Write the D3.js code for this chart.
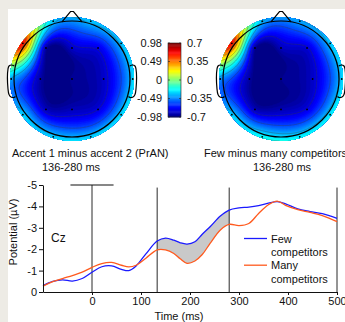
<!DOCTYPE html>
<html><head><meta charset="utf-8">
<script src="https://cdn.jsdelivr.net/npm/d3@7"></script>
<style>
html,body{margin:0;padding:0;background:#EDEBE5;}
svg{display:block;font-family:"Liberation Sans",Arial,sans-serif;}
</style></head><body>
<svg id="c" width="345" height="322"></svg>
<script>
// ---------------- data ----------------
const electrodeNames = ["Fp1","Fp2","F7","F3","Fz","F4","F8","T7","C3","Cz","C4","T8","P7","P3","Pz","P4","P8","O1","O2"];
const electrodeX = [-0.303,0.303,-0.793,-0.42,0,0.42,0.793,-0.98,-0.51,0,0.51,0.98,-0.793,-0.42,0,0.42,0.793,-0.303,0.303];
const electrodeY = [-0.932,-0.932,-0.576,-0.5,-0.5,-0.5,-0.576,0,0,0,0,0,0.576,0.49,0.49,0.49,0.576,0.932,0.932];
const accentValues =     [-0.35,-0.36,0.7,-0.9,-0.84,-0.78,-0.36,-0.42,-0.9,-0.94,-0.84,-0.33,-0.33,-0.86,-0.87,-0.8,-0.32,-0.34,-0.34];
const competitorValues = [-0.27,-0.3,0.5,-0.66,-0.62,-0.58,-0.25,-0.33,-0.65,-0.68,-0.6,-0.24,-0.24,-0.62,-0.63,-0.56,-0.2,-0.17,-0.19];
const accentTicks = [0.98,0.49,0,-0.49,-0.98];
const competitorTicks = [0.7,0.35,0,-0.35,-0.7];
const mapTitles = ["Accent 1 minus accent 2 (PrAN)","Few minus many competitors"];
const mapWindowLabel = "136-280 ms";

const times = [-100,-80,-60,-40,-20,0,20,40,60,75,90,110,133,150,167,180,194,210,225,241,262,280,300,320,340,360,378,395,420,445,470,500];
const fewValues =  [-0.30,-0.50,-0.57,-0.51,-0.63,-0.92,-1.18,-1.22,-1.06,-1.00,-1.22,-1.78,-2.38,-2.52,-2.42,-2.30,-2.24,-2.35,-2.70,-3.05,-3.55,-3.83,-3.93,-3.97,-4.04,-4.15,-4.22,-4.12,-3.88,-3.76,-3.66,-3.44];
const manyValues = [-0.27,-0.48,-0.63,-0.77,-0.93,-1.15,-1.33,-1.38,-1.25,-1.17,-1.25,-1.58,-1.97,-1.97,-1.80,-1.55,-1.34,-1.45,-1.75,-2.27,-2.90,-3.16,-3.10,-3.20,-3.67,-4.08,-4.25,-4.05,-3.85,-3.72,-3.57,-3.29];
const seriesNames = [["Few","competitors"],["Many","competitors"]];
const seriesColors = ["#1a1aff","#ff5a1e"];
const windowStart = 133, windowEnd = 280;
const timeMarkers = [0,133,280,500];
const xTicks = [0,100,200,300,400,500];
const yTicks = [0,-1,-2,-3,-4,-5];

// ---------------- helpers ----------------
const svg = d3.select("#c");
svg.append("rect").attr("x",8).attr("y",9).attr("width",345).attr("height",322).attr("fill","#fff");

function jet(f){
  const c = v => Math.max(0, Math.min(1, v));
  const r = c(1.5 - Math.abs(4*f - 3)), g = c(1.5 - Math.abs(4*f - 2)), b = c(1.5 - Math.abs(4*f - 1));
  return d3.rgb(r*255, g*255, b*255).toString();
}
function solveLinear(A, b){
  const n = b.length; const M = A.map((r,i)=>r.concat([b[i]]));
  for (let c=0;c<n;c++){
    let p=c; for (let r=c+1;r<n;r++) if (Math.abs(M[r][c])>Math.abs(M[p][c])) p=r;
    [M[c],M[p]]=[M[p],M[c]];
    for (let r=0;r<n;r++){ if(r===c) continue; const f=M[r][c]/M[c][c]; for(let k=c;k<=n;k++) M[r][k]-=f*M[c][k]; }
  }
  return M.map((r,i)=>r[n]/r[i]);
}
const green = r => r>0 ? r*r*(Math.log(r)-1) : 0;
function fitSpline(vals){
  const N = vals.length, A = [];
  for (let i=0;i<N;i++){ const row=[]; for (let j=0;j<N;j++) row.push(green(Math.hypot(electrodeX[i]-electrodeX[j], electrodeY[i]-electrodeY[j]))); A.push(row); }
  const w = solveLinear(A, vals.slice());
  return (x,y) => { let s=0; for (let j=0;j<N;j++) s += w[j]*green(Math.hypot(x-electrodeX[j], y-electrodeY[j])); return s; };
}

function drawTopo(cx, cy, vals, vmax, id){
  const R = 62, Rh = 58, n = 91;
  const f = fitSpline(vals);
  const grid = new Array(n*n);
  for (let j=0;j<n;j++) for (let i=0;i<n;i++){
    const x = -1 + 2*i/(n-1), y = -1 + 2*j/(n-1);
    grid[i + j*n] = Math.max(-vmax, Math.min(vmax, f(x,y)));
  }
  const s = 2*R/(n-1);
  const path = d3.geoPath(d3.geoIdentity().scale(s).translate([cx - R - 0.5*s, cy - R - 0.5*s]));
  svg.append("clipPath").attr("id",id).append("circle").attr("cx",cx).attr("cy",cy).attr("r",R);
  const g = svg.append("g").attr("clip-path",`url(#${id})`);
  const nLev = 64;
  const bandTh = d3.range(nLev).map(k => -vmax + k*2*vmax/nLev);
  bandTh[0] = -vmax - 1;
  const bands = d3.contours().size([n,n]).thresholds(bandTh)(grid);
  g.selectAll("path.band").data(bands).join("path").attr("class","band")
    .attr("d", path).attr("fill", (d,k) => jet((k+0.5)/nLev)).attr("stroke", (d,k)=>jet((k+0.5)/nLev)).attr("stroke-width",0.3);
  const lineTh = d3.range(-0.8, 0.81, 0.2).map(v => v*vmax/0.98);
  const lines = d3.contours().size([n,n]).thresholds(lineTh)(grid);
  g.selectAll("path.cl").data(lines).join("path").attr("class","cl")
    .attr("d", path).attr("fill","none").attr("stroke","#3a3a3a").attr("stroke-opacity",0.55).attr("stroke-width",0.6);
  // head
  const hg = svg.append("g").attr("fill","none").attr("stroke","#000").attr("stroke-width",1.2);
  hg.append("circle").attr("cx",cx).attr("cy",cy).attr("r",Rh);
  const nose = d3.line()([[cx-10, cy-Rh+0.8],[cx-1.5, cy-Rh-9.5],[cx+1.5, cy-Rh-9.5],[cx+10, cy-Rh+0.8]]);
  hg.append("path").attr("d", nose);
  const earPts = [[-0.3,-13],[2.5,-14],[5,-13],[6,-10],[6,10],[5,15.5],[3,18],[0,18.5],[-1.5,17.5]];
  const earLine = d3.line().curve(d3.curveCatmullRom);
  hg.append("path").attr("d", earLine(earPts.map(p=>[cx - Rh - p[0], cy + p[1]])));
  hg.append("path").attr("d", earLine(earPts.map(p=>[cx + Rh + p[0], cy + p[1]])));
  // electrodes
  svg.append("g").selectAll("circle").data(electrodeNames).join("circle")
    .attr("cx",(d,i)=>cx + electrodeX[i]*R).attr("cy",(d,i)=>cy + electrodeY[i]*R).attr("r",0.9).attr("fill","#000");
}

drawTopo(72, 79, accentValues, 0.98, "clipA");
drawTopo(281, 79, competitorValues, 0.7, "clipB");

// colorbar
const cb = {x:168, y:43, w:13, h:74};
const nC = 64;
const cbY = d3.scaleBand().domain(d3.range(nC)).range([cb.y+cb.h, cb.y]);
svg.append("g").selectAll("rect").data(d3.range(nC)).join("rect")
  .attr("x",cb.x).attr("y",d=>cbY(d)).attr("width",cb.w).attr("height",cbY.bandwidth()+0.4)
  .attr("fill",d=>jet((d+0.5)/nC));
svg.append("rect").attr("x",cb.x).attr("y",cb.y).attr("width",cb.w).attr("height",cb.h).attr("fill","none").attr("stroke","#222").attr("stroke-width",0.6);
const cbLeft = d3.scaleLinear().domain([-0.98,0.98]).range([cb.y+cb.h, cb.y]);
const cbRight = d3.scaleLinear().domain([-0.7,0.7]).range([cb.y+cb.h, cb.y]);
const cbT = svg.append("g").attr("font-size",11).attr("fill","#111");
accentTicks.forEach(v=>{
  cbT.append("text").attr("x",162).attr("y",cbLeft(v)).attr("dy","0.35em").attr("text-anchor","end").text(String(v));
  svg.append("line").attr("x1",cb.x).attr("x2",cb.x+2).attr("y1",cbLeft(v)).attr("y2",cbLeft(v)).attr("stroke","#222").attr("stroke-width",0.6);
});
competitorTicks.forEach(v=>{
  cbT.append("text").attr("x",187).attr("y",cbRight(v)).attr("dy","0.35em").attr("text-anchor","start").text(String(v));
  svg.append("line").attr("x1",cb.x+cb.w-2).attr("x2",cb.x+cb.w).attr("y1",cbRight(v)).attr("y2",cbRight(v)).attr("stroke","#222").attr("stroke-width",0.6);
});

// titles
const tg = svg.append("g").attr("font-size",11).attr("fill","#111");
tg.append("text").attr("x",12).attr("y",157).text(mapTitles[0]);
tg.append("text").attr("x",42).attr("y",171).text(mapWindowLabel);
tg.append("text").attr("x",204).attr("y",157).text(mapTitles[1]);
tg.append("text").attr("x",253).attr("y",171).text(mapWindowLabel);

// ---------------- ERP chart ----------------
const x = d3.scaleLinear().domain([-100,500]).range([43,337]);
const y = d3.scaleLinear().domain([0,-5]).range([292,185]);
const data = times.map((t,i)=>({t, few:fewValues[i], many:manyValues[i]}));
const curve = d3.curveCatmullRom.alpha(0.5);

svg.append("clipPath").attr("id","win").append("rect")
  .attr("x",x(windowStart)).attr("y",170).attr("width",x(windowEnd)-x(windowStart)).attr("height",130);
svg.append("path").datum(data).attr("clip-path","url(#win)")
  .attr("d", d3.area().curve(curve).x(d=>x(d.t)).y0(d=>y(d.many)).y1(d=>y(d.few)))
  .attr("fill","#c9c9c9");

// markers
svg.append("g").selectAll("line").data(timeMarkers).join("line")
  .attr("x1",d=>x(d)).attr("x2",d=>x(d)).attr("y1",d=>d===0?y(-5):y(-4.88)).attr("y2",y(0))
  .attr("stroke","#2a2a2a").attr("stroke-width",1);
svg.append("line").attr("x1",x(-44)).attr("x2",x(44)).attr("y1",y(-5)).attr("y2",y(-5)).attr("stroke","#111").attr("stroke-width",1.2);

// curves
[["few",0],["many",1]].forEach(([k,i])=>{
  svg.append("path").datum(data).attr("fill","none").attr("stroke",seriesColors[i]).attr("stroke-width",1.3)
    .attr("d", d3.line().curve(curve).x(d=>x(d.t)).y(d=>y(d[k])));
});

// axes
const yAxis = svg.append("g").attr("transform",`translate(${x(-100)},0)`)
  .call(d3.axisLeft(y).tickValues(yTicks).tickSize(4).tickSizeOuter(0).tickPadding(2).tickFormat(d=>String(d)));
const xAxis = svg.append("g").attr("transform",`translate(0,${y(0)})`)
  .call(d3.axisBottom(x).tickValues(xTicks).tickSize(3).tickSizeOuter(0).tickPadding(2).tickFormat(d=>String(d)));
[yAxis,xAxis].forEach(a=>{
  a.selectAll("text").attr("font-size",11).attr("fill","#111").attr("font-family","Liberation Sans, Arial, sans-serif");
  a.selectAll("path,line").attr("stroke","#111");
});

svg.append("text").attr("x",51).attr("y",242).attr("font-size",12).attr("fill","#111").text("Cz");
svg.append("text").attr("transform","translate(13,232) rotate(-90)").attr("dy","0.35em").attr("text-anchor","middle")
  .attr("font-size",11).attr("fill","#111").text("Potential (µV)");
svg.append("text").attr("x",179).attr("y",320).attr("text-anchor","middle").attr("font-size",11).attr("fill","#111").text("Time (ms)");

// legend
const lg = svg.append("g").attr("font-size",11).attr("fill","#111");
seriesNames.forEach((nm,i)=>{
  const ly = 238.5 + i*26.7;
  lg.append("line").attr("x1",244).attr("x2",267).attr("y1",ly).attr("y2",ly).attr("stroke",seriesColors[i]).attr("stroke-width",1.3);
  const t = lg.append("text").attr("x",271).attr("y",ly+4);
  t.append("tspan").attr("x",271).text(nm[0]);
  t.append("tspan").attr("x",271).attr("dy",13.3).text(nm[1]);
});
</script>
</body></html>
